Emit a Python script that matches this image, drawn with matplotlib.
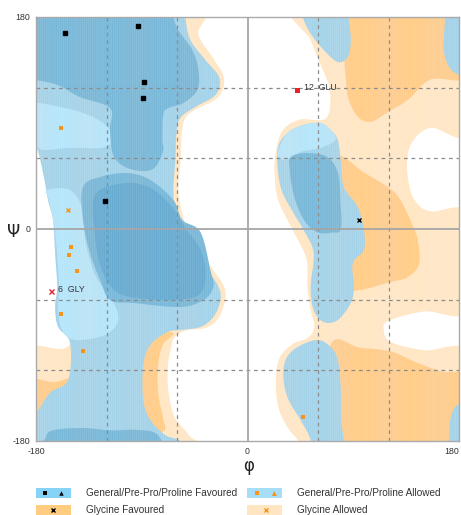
import numpy as np
import matplotlib
matplotlib.use("Agg")
import matplotlib.pyplot as plt
from matplotlib.patches import Polygon, Rectangle

# ---------------- data ----------------
gen_fav_phi = [-155, -93, -88, -89, -121]
gen_fav_psi = [166, 172, 125, 111, 24]
gen_allow_phi = [-159, -150, -152, -145, -159, -140, 47]
gen_allow_psi = [86, -15, -22, -36, -72, -104, -160]
gly_fav_phi = [95]
gly_fav_psi = [8]
gly_allow_phi = [-153]
gly_allow_psi = [16]
out_gen_phi = [42]
out_gen_psi = [118]
out_gen_lab = ["12  GLU"]
out_gly_phi = [-167]
out_gly_psi = [-53]
out_gly_lab = ["6  GLY"]

ticks = [-180, 0, 180]
tick_labels = ["-180", "0", "180"]
grid_vals = [-120, -60, 60, 120]

# contour outlines (phi, psi) in degrees
gly_allowed = [
    [(-190, 190), (-46, 190), (-42, 165), (-30, 146), (-20, 128), (-25, 112), (-45, 101), (-53, 94),
     (-56, 80), (-57, 58), (-59, 33), (-55, 12), (-51, -1), (-40, -20), (-29, -35), (-20, -49),
     (-19, -60), (-25, -76), (-36, -84), (-52, -86), (-62, -92), (-66, -105), (-68, -120),
     (-67, -140), (-62, -160), (-50, -175), (-44, -190), (-190, -190), (-190, -140), (-190, -99),
     (-178, -99), (-152, -99), (-140, -60), (-140, 0), (-160, 95), (-190, 110)],
    [(45, 190), (190, 190), (190, 84), (156, 86), (141, 75), (136, 60), (137, 40), (142, 25),
     (155, 15), (190, 12), (190, -68), (150, -70), (120, -78), (116, -86), (122, -96), (150, -103),
     (190, -106), (190, -190), (56, -190), (42, -178), (32, -165), (26, -150), (24, -130),
     (27, -110), (38, -98), (52, -92), (57, -82), (54, -70), (51, -50), (50, -25), (38, 0),
     (26, 25), (23, 50), (25, 70), (31, 85), (45, 93), (67, 94), (70, 118), (62, 140), (54, 160)],
]
gly_favoured = [
    [(81, 190), (190, 190), (190, 131), (156, 127), (137, 110), (119, 99), (105, 91), (94, 95),
     (86, 110), (84, 124), (82, 150)],
    [(79, 62), (99, 48), (119, 36), (130, 25), (141, 2), (145, -10), (146, -30), (136, -41),
     (122, -45), (94, -52), (75, -50), (68, 0), (72, 50)],
    [(70, -100), (96, -101), (122, -104), (143, -113), (165, -121), (190, -128), (190, -190), (70, -190)],
    [(-190, -130), (-165, -130), (-148, -128), (-140, -150), (-190, -175)],
    [(-64, -88), (-72, -98), (-76, -115), (-76, -140), (-72, -160), (-72, -172), (-100, -172), (-100, -88)],
]
gen_outer = [
    [(-190, 190), (-53, 190), (-53, 180), (-48.6, 160.5), (-35.8, 143.5), (-23.9, 128.2), (-27.3, 113.8),
     (-44.4, 103.6), (-57.2, 94.2), (-60.6, 79.8), (-61.4, 58.6), (-63.1, 33.1), (-61.4, 11.9),
     (-57.2, -0.8), (-46, -20.4), (-34.1, -34.8), (-24.7, -49.2), (-23, -60.3), (-29, -74.7),
     (-40.1, -83.2), (-57.2, -85.8), (-68.2, -87.5), (-82.7, -98.5), (-88.7, -115.5), (-88.7, -145.2),
     (-82.7, -162.2), (-70, -174.9), (-57, -180), (-52, -190), (-190, -190), (-190, -160), (-180, -156),
     (-168, -139), (-152.7, -128.2), (-151, -96.8), (-161.2, -83.2), (-163.8, -66.2), (-162, -49.2),
     (-163.8, -20.4), (-165.5, 7.6), (-169.8, 24.6), (-174, 47.5), (-180, 69.6), (-190, 72)],
    [(25.6, 67), (34.1, 81.5), (47.8, 88.3), (62.3, 90), (70.8, 84), (76.8, 75.6), (79.3, 58.6),
     (81.9, 35.7), (93.8, 18.7), (99, -0.8), (99, -17.8), (89.6, -28.9), (90.4, -49.2), (87.9, -62.8),
     (76.8, -77.3), (64.8, -79), (56.3, -68.8), (53.7, -49.2), (56.3, -20.4), (47.8, -0.8),
     (39.2, 13.6), (28.2, 35.7)],
    [(59.7, -94.2), (70.8, -100.2), (76.8, -111.2), (79.3, -134.1), (79.5, -160), (80, -190), (52, -190),
     (53.7, -179), (45.2, -162.2), (35, -145.2), (30.7, -128.2), (32.4, -111.2), (42.7, -100.2)],
    [(47, 190), (86, 190), (86, 180), (87.9, 160.5), (85.3, 146), (76.8, 141.8), (64.8, 152),
     (53.7, 166), (47, 180)],
    [(169, 190), (190, 190), (190, 130), (180, 131), (172, 137), (167, 152), (168, 175)],
    [(190, -148), (178, -150), (173, -160), (172, -175), (173, -190), (190, -190)],
]
gen_single = [
    [(-190, 105.3), (-155.3, 102.7), (-129.7, 94.2), (-116.9, 84), (-115.2, 73.9), (-125.4, 68.8),
     (-151, 68.8), (-172.3, 67), (-180, 69.6), (-190, 72)],
    [(-170.6, 33.1), (-151, 33.1), (-140, 16.1), (-138.2, -9.3), (-129.7, -39), (-115.2, -60.3),
     (-110, -77.3), (-121, -90), (-146.7, -94.2), (-157.8, -85.8), (-161.2, -68.8), (-160.4, -51.8),
     (-162, -22), (-164.6, 3.4), (-169, 24.6)],
    [(25.6, 64.5), (34.1, 81.5), (47.8, 88.3), (62.3, 90), (70.8, 84), (75, 75.6), (62.3, 68.8),
     (45.2, 65.4), (32.4, 58.6)],
]
gen_core = [
    [(-190, 190), (-63, 190), (-63, 180), (-59, 169), (-47, 152), (-41.8, 135), (-42.7, 118),
     (-54.6, 107), (-67.4, 102.7), (-71.7, 96.8), (-72.5, 75.6), (-71.7, 67), (-78.5, 52.6),
     (-88.7, 49.2), (-104, 52.6), (-114.3, 62.8), (-117, 84), (-117, 102.7), (-142.5, 112),
     (-161, 122), (-180, 126.5), (-190, 127)],
    [(-140, 35.7), (-125.4, 44.1), (-102.4, 47.5), (-82.7, 41.6), (-63.1, 24.6), (-55.4, 7.6),
     (-40.1, -2.5), (-31.6, -34.8), (-29, -49.2), (-37.5, -60.3), (-57.2, -66.2), (-97.2, -62.8),
     (-116.9, -60.3), (-125.4, -43.3), (-134, -20.4), (-140, 7.6)],
    [(-174, -190), (-172, -178), (-166, -171), (-140, -169), (-117, -171), (-97, -170.5),
     (-80, -172.5), (-73, -180), (-71, -190)],
    [(36.7, 61), (51, 64.5), (68, 61), (77, 47.5), (79, 25), (79.5, 0), (72, -3), (60, -3),
     (50, 5), (42.7, 18.7), (38, 35), (36, 50)],
]
gen_deep = [
    [(-129.7, 28.9), (-104, 39), (-82.7, 34.8), (-65.7, 20.4), (-52.9, 0.8), (-40, -17.8),
     (-35.8, -39), (-41.8, -56), (-65.7, -60.3), (-100, -57.7), (-115.2, -50), (-125.4, -30.6),
     (-129.7, -5)],
]

C_O1 = "#FFE6C4"
C_O2 = "#FFCC8A"
C_B1 = "#B6E4F8"
C_B2 = "#A4D2E8"
C_B3 = "#78B7D7"
C_B4 = "#67AAD0"


def smooth(pts, n=10):
    P = np.asarray(pts, float)
    N = len(P)
    t = np.linspace(0, 1, n, endpoint=False)[:, None]
    out = []
    for i in range(N):
        p0, p1, p2, p3 = P[(i - 1) % N], P[i], P[(i + 1) % N], P[(i + 2) % N]
        seg = 0.5 * (2 * p1 + (-p0 + p2) * t + (2 * p0 - 5 * p1 + 4 * p2 - p3) * t ** 2
                     + (-p0 + 3 * p1 - 3 * p2 + p3) * t ** 3)
        out.append(seg)
    return np.vstack(out)


plt.rcParams["font.family"] = ["Liberation Sans", "DejaVu Sans"]
plt.rcParams["hatch.linewidth"] = 0.5

fig = plt.figure(figsize=(4.61, 5.15), dpi=100)
ax = fig.add_axes([36 / 461, 1 - 441 / 515, 423 / 461, 424 / 515])
ax.set_xlim(-180, 180)
ax.set_ylim(-180, 180)


def fill(polys, color):
    for poly in polys:
        ax.add_patch(Polygon(smooth(poly), closed=True, facecolor=color,
                             edgecolor=(1, 1, 1, 0.17), lw=0, hatch="|" * 8, zorder=1))


fill(gly_allowed, C_O1)
fill(gly_favoured, C_O2)
fill(gen_outer, C_B2)
fill(gen_single, C_B1)
fill(gen_core, C_B3)
fill(gen_deep, C_B4)

for g in grid_vals:
    ax.axvline(g, color="#8c8c8c", lw=0.9, ls=(0, (3, 3)), zorder=2)
    ax.axhline(g, color="#8c8c8c", lw=0.9, ls=(0, (3, 3)), zorder=2)
ax.axvline(0, color="#a6a6a6", lw=1.3, zorder=2)
ax.axhline(0, color="#a6a6a6", lw=1.3, zorder=2)

ax.plot(gen_fav_phi, gen_fav_psi, ls="none", marker="s", ms=2.2, color="black", zorder=3)
ax.plot(gen_allow_phi, gen_allow_psi, ls="none", marker="s", ms=3.3, color="#F7941D", mew=0, zorder=3)
ax.plot(gly_fav_phi, gly_fav_psi, ls="none", marker="x", ms=3.2, color="black", mew=1.0, zorder=3)
ax.plot(gly_allow_phi, gly_allow_psi, ls="none", marker="x", ms=3.2, color="#F7941D", mew=1.0, zorder=3)
ax.plot(out_gen_phi, out_gen_psi, ls="none", marker="s", ms=3.6, color="#E8202A", mew=0, zorder=3)
ax.plot(out_gly_phi, out_gly_psi, ls="none", marker="x", ms=3.6, color="#E8202A", mew=1.0, zorder=3)
for x, y, s in zip(out_gen_phi + out_gly_phi, out_gen_psi + out_gly_psi, out_gen_lab + out_gly_lab):
    ax.annotate(s, (x, y), xytext=(5, 1.5), textcoords="offset points", fontsize=6.3,
                color="#333333", va="center", ha="left", zorder=4)

ax.set_xticks(ticks)
ax.set_xticklabels(tick_labels)
ax.set_yticks(ticks)
ax.set_yticklabels(tick_labels)
ax.tick_params(length=0, labelsize=6.3, colors="#333333", pad=4)
ax.get_xticklabels()[-1].set_horizontalalignment("right")
for sp in ax.spines.values():
    sp.set_color("#aaaaaa")
    sp.set_linewidth(1.0)

ax.set_xlabel("φ", fontsize=12, color="#222222", family="DejaVu Sans")
ax.xaxis.set_label_coords(0.503, -0.038)
ax.set_ylabel("Ψ", fontsize=12, color="#222222", rotation=0, ha="center", va="center",
              family="DejaVu Sans")
ax.yaxis.set_label_coords(-0.052, 0.493)

# legend (pixel layout)
lax = fig.add_axes([0, 0, 1, 1], zorder=5)
lax.set_xlim(0, 461)
lax.set_ylim(515, 0)
lax.axis("off")
leg_items = [
    (36, 493, "#86D3F7", "General/Pre-Pro/Proline Favoured",
     [(45, "s", "black", 2.2), (61, "^", "black", 3.2)]),
    (247, 493, "#A6DEF8", "General/Pre-Pro/Proline Allowed",
     [(257, "s", "#F7941D", 3.2), (274, "^", "#F7941D", 3.6)]),
    (36, 510, "#FFCC80", "Glycine Favoured", [(53, "x", "black", 3.0)]),
    (247, 510, "#FFE5C2", "Glycine Allowed", [(266, "x", "#F7941D", 3.0)]),
]
for x0, yc, col, lab, marks in leg_items:
    lax.add_patch(Rectangle((x0, yc - 5), 35, 10, facecolor=col, edgecolor="none"))
    for mx, mk, mc, ms in marks:
        lax.plot([mx], [yc], ls="none", marker=mk, ms=ms, color=mc, mew=1.0 if mk == "x" else 0)
    lax.text(x0 + 50, yc, lab, fontsize=7.2, color="#333333", va="center", ha="left")

fig.savefig("out.png", dpi=100)
